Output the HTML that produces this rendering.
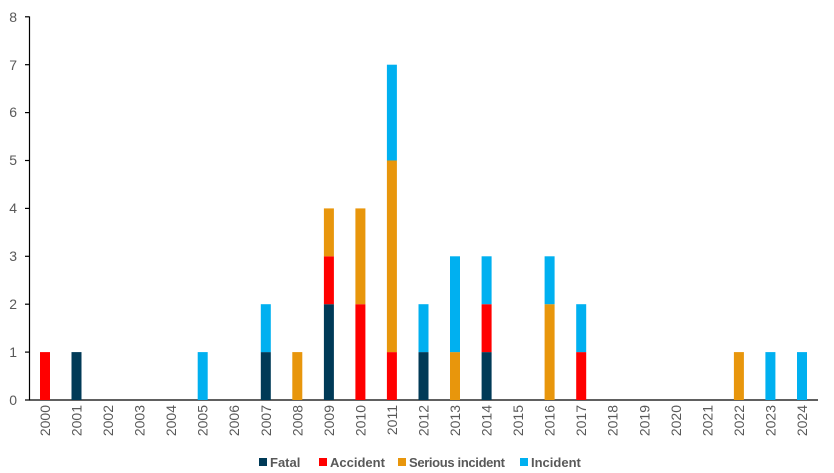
<!DOCTYPE html>
<html><head><style>body{margin:0;background:#fff}svg{display:block;font-family:"Liberation Sans",sans-serif}</style></head>
<body>
<svg width="834" height="473" viewBox="0 0 834 473">
<g fill="#595959" font-size="14" text-anchor="end">
<text x="17" y="405">0</text><text x="17" y="357">1</text><text x="17" y="309">2</text><text x="17" y="261">3</text><text x="17" y="213">4</text><text x="17" y="165">5</text><text x="17" y="117">6</text><text x="17" y="70">7</text><text x="17" y="22">8</text>
</g>
<g stroke="#000" stroke-width="1.2">
<line x1="29.5" y1="16.5" x2="29.5" y2="400"/>
<line x1="29" y1="400" x2="818" y2="400"/>
<line x1="25" y1="400" x2="29.5" y2="400"/><line x1="25" y1="352.1" x2="29.5" y2="352.1"/><line x1="25" y1="304.2" x2="29.5" y2="304.2"/><line x1="25" y1="256.3" x2="29.5" y2="256.3"/><line x1="25" y1="208.4" x2="29.5" y2="208.4"/><line x1="25" y1="160.5" x2="29.5" y2="160.5"/><line x1="25" y1="112.6" x2="29.5" y2="112.6"/><line x1="25" y1="64.7" x2="29.5" y2="64.7"/><line x1="25" y1="16.8" x2="29.5" y2="16.8"/>
</g>
<g transform="translate(0,400) scale(1,-47.9)">
<rect x="40" y="0" width="10" height="1" fill="#ff0000"/>
<rect x="71.5" y="0" width="10" height="1" fill="#003a57"/>
<rect x="197.7" y="0" width="10" height="1" fill="#00b0f0"/>
<rect x="260.8" y="0" width="10" height="1" fill="#003a57"/><rect x="260.8" y="1" width="10" height="1" fill="#00b0f0"/>
<rect x="292.3" y="0" width="10" height="1" fill="#e8960c"/>
<rect x="323.9" y="0" width="10" height="2" fill="#003a57"/><rect x="323.9" y="2" width="10" height="1" fill="#ff0000"/><rect x="323.9" y="3" width="10" height="1" fill="#e8960c"/>
<rect x="355.4" y="0" width="10" height="2" fill="#ff0000"/><rect x="355.4" y="2" width="10" height="2" fill="#e8960c"/>
<rect x="386.9" y="0" width="10" height="1" fill="#ff0000"/><rect x="386.9" y="1" width="10" height="4" fill="#e8960c"/><rect x="386.9" y="5" width="10" height="2" fill="#00b0f0"/>
<rect x="418.5" y="0" width="10" height="1" fill="#003a57"/><rect x="418.5" y="1" width="10" height="1" fill="#00b0f0"/>
<rect x="450" y="0" width="10" height="1" fill="#e8960c"/><rect x="450" y="1" width="10" height="2" fill="#00b0f0"/>
<rect x="481.6" y="0" width="10" height="1" fill="#003a57"/><rect x="481.6" y="1" width="10" height="1" fill="#ff0000"/><rect x="481.6" y="2" width="10" height="1" fill="#00b0f0"/>
<rect x="544.6" y="0" width="10" height="2" fill="#e8960c"/><rect x="544.6" y="2" width="10" height="1" fill="#00b0f0"/>
<rect x="576.2" y="0" width="10" height="1" fill="#ff0000"/><rect x="576.2" y="1" width="10" height="1" fill="#00b0f0"/>
<rect x="733.9" y="0" width="10" height="1" fill="#e8960c"/>
<rect x="765.4" y="0" width="10" height="1" fill="#00b0f0"/>
<rect x="797" y="0" width="10" height="1" fill="#00b0f0"/>
</g>
<g fill="#595959" font-size="14" text-anchor="end">
<text transform="translate(50,405) rotate(-90)">2000</text>
<text transform="translate(81.5,405) rotate(-90)">2001</text>
<text transform="translate(113.1,405) rotate(-90)">2002</text>
<text transform="translate(144.6,405) rotate(-90)">2003</text>
<text transform="translate(176.2,405) rotate(-90)">2004</text>
<text transform="translate(207.7,405) rotate(-90)">2005</text>
<text transform="translate(239.2,405) rotate(-90)">2006</text>
<text transform="translate(270.8,405) rotate(-90)">2007</text>
<text transform="translate(302.3,405) rotate(-90)">2008</text>
<text transform="translate(333.9,405) rotate(-90)">2009</text>
<text transform="translate(365.4,405) rotate(-90)">2010</text>
<text transform="translate(396.9,405) rotate(-90)">2011</text>
<text transform="translate(428.5,405) rotate(-90)">2012</text>
<text transform="translate(460,405) rotate(-90)">2013</text>
<text transform="translate(491.6,405) rotate(-90)">2014</text>
<text transform="translate(523.1,405) rotate(-90)">2015</text>
<text transform="translate(554.6,405) rotate(-90)">2016</text>
<text transform="translate(586.2,405) rotate(-90)">2017</text>
<text transform="translate(617.7,405) rotate(-90)">2018</text>
<text transform="translate(649.3,405) rotate(-90)">2019</text>
<text transform="translate(680.8,405) rotate(-90)">2020</text>
<text transform="translate(712.3,405) rotate(-90)">2021</text>
<text transform="translate(743.9,405) rotate(-90)">2022</text>
<text transform="translate(775.4,405) rotate(-90)">2023</text>
<text transform="translate(807,405) rotate(-90)">2024</text>
</g>
<g font-size="13" font-weight="bold" fill="#595959">
<rect x="259" y="458" width="8" height="8" fill="#003a57"/><text x="270" y="467">Fatal</text>
<rect x="319" y="458" width="8" height="8" fill="#ff0000"/><text x="330" y="467">Accident</text>
<rect x="398" y="458" width="8" height="8" fill="#e8960c"/><text x="409" y="467" textLength="96">Serious incident</text>
<rect x="520" y="458" width="8" height="8" fill="#00b0f0"/><text x="531" y="467">Incident</text>
</g>
</svg>
</body></html>
